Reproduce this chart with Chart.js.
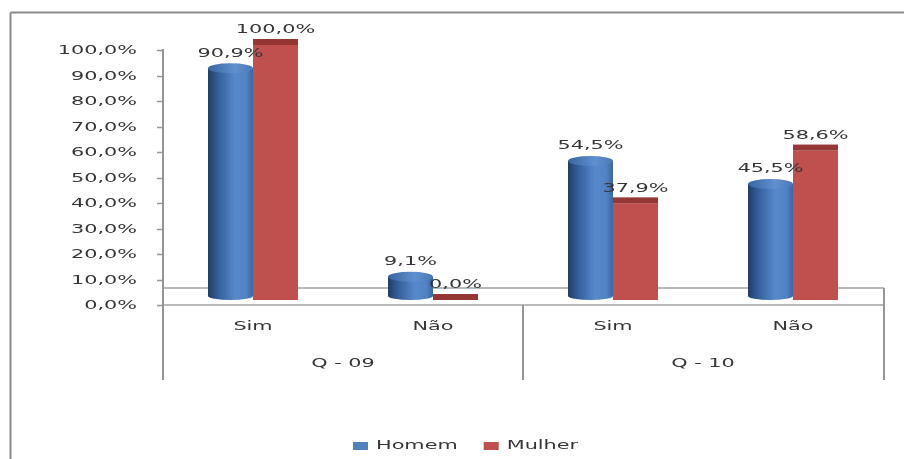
<!DOCTYPE html>
<html>
<head>
<meta charset="utf-8">
<script src="https://cdn.jsdelivr.net/npm/chart.js@4/dist/chart.umd.min.js"></script>
<style>
  html, body { margin: 0; padding: 0; background: #fff; }
  #wrap { width: 904px; height: 459px; position: relative; }
  canvas { display: block; }
</style>
</head>
<body>
<div id="wrap"><canvas id="chart" width="904" height="459"></canvas></div>
<script>
// Survey answers by sex, per question
const questions = ['Q - 09', 'Q - 10'];
const answers = ['Sim', 'Não', 'Sim', 'Não'];
const homem = [90.9, 9.1, 54.5, 45.5];
const mulher = [100.0, 0.0, 37.9, 58.6];
const yTicks = [0, 10, 20, 30, 40, 50, 60, 70, 80, 90, 100];
const seriesNames = ['Homem', 'Mulher'];
const seriesColors = ['#4F81BD', '#C0504D'];

const FONT = '13px "DejaVu Sans", Verdana, sans-serif';
const TEXT = '#363636';
const LINE = '#959595';
const STRETCH = 1.6;   // wide lettering
const DEPTH = 5;       // 3-D offset of the bars above the floor edge

function fmt(v) {
  return v.toFixed(1).replace('.', ',') + '%';
}

function wideText(ctx, text, x, y, align) {
  ctx.save();
  ctx.translate(x, y);
  ctx.scale(STRETCH, 1);
  ctx.font = FONT;
  ctx.fillStyle = TEXT;
  ctx.textAlign = align;
  ctx.textBaseline = 'middle';
  ctx.fillText(text, 0, 0);
  ctx.restore();
}

function line(ctx, x1, y1, x2, y2, w, c) {
  ctx.beginPath();
  ctx.moveTo(x1, y1);
  ctx.lineTo(x2, y2);
  ctx.lineWidth = w;
  ctx.strokeStyle = c;
  ctx.stroke();
}

function drawCylinder(ctx, el) {
  const w = el.width, l = el.x - w / 2, r = el.x + w / 2;
  const rx = w / 2, ryTop = 5, ryBot = 4;
  const topY = el.y, botY = el.base - ryBot;
  const g = ctx.createLinearGradient(l, 0, r, 0);
  g.addColorStop(0, '#203d66');
  g.addColorStop(0.22, '#345e98');
  g.addColorStop(0.6, '#5689cb');
  g.addColorStop(0.85, '#5282c3');
  g.addColorStop(1, '#3c679f');
  ctx.fillStyle = g;
  ctx.fillRect(l, topY, w, Math.max(0, botY - topY));
  ctx.beginPath();
  ctx.ellipse(el.x, botY, rx, ryBot, 0, 0, Math.PI);
  ctx.closePath();
  ctx.fill();
  const gt = ctx.createLinearGradient(l, 0, r, 0);
  gt.addColorStop(0, '#3a65a0');
  gt.addColorStop(0.6, '#5f90cf');
  gt.addColorStop(1, '#4a78b6');
  ctx.beginPath();
  ctx.ellipse(el.x, topY, rx, ryTop, 0, 0, Math.PI * 2);
  ctx.fillStyle = gt;
  ctx.fill();
}

const decor = {
  id: 'decor',
  beforeDraw(chart) {
    const ctx = chart.ctx;
    const a = chart.chartArea;
    const xs = chart.scales.x, ys = chart.scales.y;
    ctx.save();
    ctx.fillStyle = '#fff';
    ctx.fillRect(0, 0, chart.width, chart.height);
    // outer frame
    line(ctx, 10.5, 12.5, chart.width, 12.5, 2, '#8c8c8c');
    line(ctx, 10.5, 12.5, 10.5, chart.height, 2, '#8c8c8c');
    const floorBack = a.bottom - 17;
    const lowEdge = 380;
    // floor
    line(ctx, a.left, floorBack, a.right + 1, floorBack, 1.5, '#a3a3a3');
    line(ctx, a.left, a.bottom, a.right + 1, a.bottom, 1.5, '#a3a3a3');
    line(ctx, a.right + 1, floorBack, a.right + 1, lowEdge, 2, LINE);
    // value axis and ticks
    line(ctx, a.left, a.top - 1, a.left, lowEdge, 2, LINE);
    yTicks.forEach(v => {
      const y = Math.round(ys.getPixelForValue(v)) + 0.5;
      line(ctx, a.left - 6, y, a.left, y, 1.5, LINE);
    });
    // group divider
    const mid = (xs.getPixelForValue(1) + xs.getPixelForValue(2)) / 2;
    line(ctx, mid, a.bottom, mid, lowEdge, 2, LINE);
    ctx.restore();
  },
  beforeDatasetsDraw(chart) {
    chart.ctx.save();
    chart.ctx.translate(0, -DEPTH);
  },
  beforeDatasetDraw(chart, args) {
    if (args.index === 0) {
      args.meta.data.forEach(el => drawCylinder(chart.ctx, el));
      return false;
    }
  },
  afterDatasetsDraw(chart) {
    const ctx = chart.ctx;
    const red = chart.getDatasetMeta(1).data;
    red.forEach(el => {
      ctx.fillStyle = '#953735';
      ctx.fillRect(el.x - el.width / 2, el.y - 6, el.width, 6);
    });
    chart.data.datasets.forEach((ds, di) => {
      chart.getDatasetMeta(di).data.forEach((el, i) => {
        wideText(ctx, fmt(ds.data[i]), el.x, el.y - 15, 'center');
      });
    });
    ctx.restore();
  },
  afterDraw(chart) {
    const ctx = chart.ctx;
    const a = chart.chartArea;
    const xs = chart.scales.x, ys = chart.scales.y;
    yTicks.forEach(v => wideText(ctx, fmt(v), a.left - 26, ys.getPixelForValue(v) + 1, 'right'));
    answers.forEach((t, i) => wideText(ctx, t, xs.getPixelForValue(i), 327, 'center'));
    questions.forEach((q, gi) => {
      const cx = (xs.getPixelForValue(gi * 2) + xs.getPixelForValue(gi * 2 + 1)) / 2;
      wideText(ctx, q, cx, 364, 'center');
    });
    // legend
    ctx.save();
    ctx.font = FONT;
    let x = 353;
    chart.data.datasets.forEach((ds, di) => {
      ctx.fillStyle = seriesColors[di];
      ctx.fillRect(x, 442, 15, 8);
      x += 23;
      wideText(ctx, ds.label, x, 446, 'left');
      x += ctx.measureText(ds.label).width * STRETCH + 26;
    });
    ctx.restore();
  }
};

new Chart(document.getElementById('chart'), {
  type: 'bar',
  data: {
    labels: answers,
    datasets: [
      { label: seriesNames[0], data: homem, backgroundColor: seriesColors[0], borderWidth: 0 },
      { label: seriesNames[1], data: mulher, backgroundColor: seriesColors[1], borderWidth: 0 }
    ]
  },
  options: {
    responsive: false,
    animation: false,
    layout: { padding: { left: 163, right: 21, top: 50, bottom: 154 } },
    datasets: { bar: { categoryPercentage: 0.5, barPercentage: 1 } },
    scales: {
      x: { display: false },
      y: { display: false, min: 0, max: 100 }
    },
    plugins: { legend: { display: false }, tooltip: { enabled: false } }
  },
  plugins: [decor]
});
</script>
</body>
</html>
